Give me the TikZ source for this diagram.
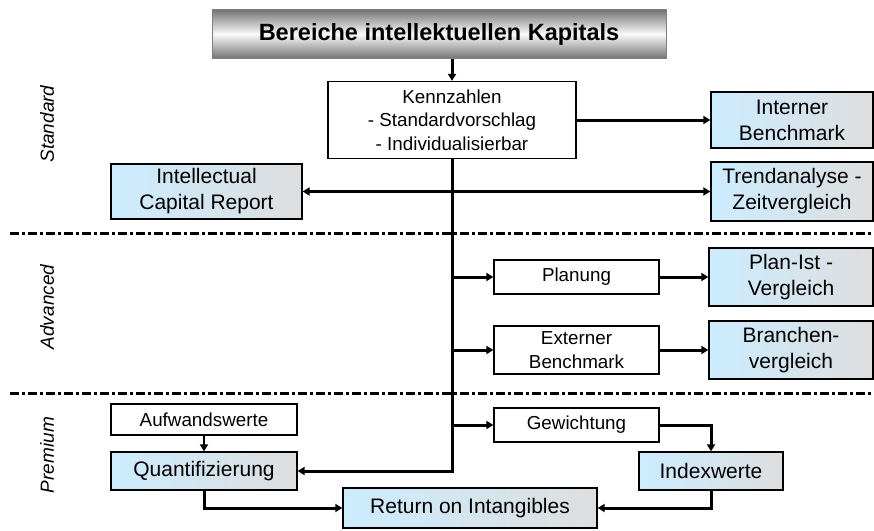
\documentclass[tikz,border=0pt]{standalone}
\usepackage{fontspec}
\setmainfont{Liberation Sans}
\usetikzlibrary{arrows.meta}

\definecolor{boxblue}{RGB}{204,236,255}
\definecolor{boxgray}{RGB}{222,222,222}

\tikzset{
    wbox/.style={draw, line width=1.3pt, fill=white, align=center, inner sep=0pt,
        font=\fontsize{18.8}{23.5}\selectfont},
    bbox/.style={draw, line width=1.3pt, left color=boxblue, right color=boxgray,
        align=center, inner sep=0pt, font=\fontsize{21}{26}\selectfont},
    arr/.style={line width=3pt, -{Triangle[length=7pt,width=8pt]}},
    sepline/.style={line width=3pt, dash pattern=on 9pt off 3pt on 3pt off 3pt},
    level/.style={rotate=90, font=\fontsize{19}{23}\selectfont\itshape}
}

\begin{document}
\begin{tikzpicture}[x=1pt, y=-1pt]
    \useasboundingbox (0,0) rectangle (874,530);

    % title
    \node[draw=black!50, line width=1pt, top color=black!55, bottom color=black!55,
        middle color=black!2, minimum width=454pt, minimum height=49pt,
        font=\fontsize{23.5}{28}\selectfont\bfseries] (title) at (439,34) {Bereiche intellektuellen Kapitals};

    % standard
    \node[wbox, minimum width=248pt, minimum height=77pt] (kenn) at (452,120)
        {Kennzahlen\\ - Standardvorschlag\\ - Individualisierbar};
    \node[bbox, minimum width=162pt, minimum height=56pt] (intbench) at (792,120) {Interner\\Benchmark};
    \node[bbox, minimum width=162pt, minimum height=59pt] (trend) at (792,191.5) {Trendanalyse -\\Zeitvergleich};
    \node[bbox, minimum width=191pt, minimum height=55pt] (icr) at (206.5,191.5) {Intellectual\\Capital Report};

    % advanced
    \node[wbox, minimum width=165pt, minimum height=34pt] (planung) at (576.5,277) {Planung};
    \node[bbox, minimum width=164pt, minimum height=58pt] (planist) at (791,277) {Plan-Ist -\\Vergleich};
    \node[wbox, minimum width=165pt, minimum height=48pt] (extbench) at (576.5,350) {Externer\\Benchmark};
    \node[bbox, minimum width=164pt, minimum height=58pt] (branche) at (791,350) {Branchen-\\vergleich};

    % premium
    \node[wbox, minimum width=165pt, minimum height=34pt] (gewicht) at (576.5,425) {Gewichtung};
    \node[bbox, minimum width=144pt, minimum height=38pt] (index) at (711,471) {Indexwerte};
    \node[wbox, minimum width=186pt, minimum height=31pt] (aufwand) at (204,419.5) {Aufwandswerte};
    \node[bbox, minimum width=186pt, minimum height=38pt] (quant) at (204,471) {Quantifizierung};
    \node[bbox, minimum width=254pt, minimum height=40pt] (roi) at (470,508) {Return on Intangibles};

    % levels
    \node[level] (std) at (47,124) {Standard};
    \node[level] (adv) at (47,307) {Advanced};
    \node[level] (prem) at (47,455) {Premium};

    \coordinate (sepa) at (10,233);
    \coordinate (sepb) at (874,233);
    \coordinate (sepc) at (10,393);
    \coordinate (sepd) at (874,393);
    \draw[sepline] (sepa) -- (sepb);
    \draw[sepline] (sepc) -- (sepd);

    % trunk
    \coordinate (vicr) at (kenn.south |- icr.east);
    \coordinate (vplan) at (kenn.south |- planung.west);
    \coordinate (vext) at (kenn.south |- extbench.west);
    \coordinate (vgew) at (kenn.south |- gewicht.west);

    \draw[arr] (title.south -| kenn.north) -- (kenn.north);
    \draw[arr] (kenn.east) -- (intbench.west);
    \draw[arr] (kenn.south) |- (quant.east);
    \draw[arr] (vicr) -- (icr.east);
    \draw[arr] (vicr) -- (trend.west);
    \draw[arr] (vplan) -- (planung.west);
    \draw[arr] (vext) -- (extbench.west);
    \draw[arr] (vgew) -- (gewicht.west);

    \draw[arr] (planung.east) -- (planist.west);
    \draw[arr] (extbench.east) -- (branche.west);
    \draw[arr] (gewicht.east) -| (index.north);
    \draw[arr] (index.south) |- (roi.east);
    \draw[arr] (quant.south) |- (roi.west);
    \draw[arr, line width=2pt] (aufwand.south) -- (quant.north);
\end{tikzpicture}
\end{document}
